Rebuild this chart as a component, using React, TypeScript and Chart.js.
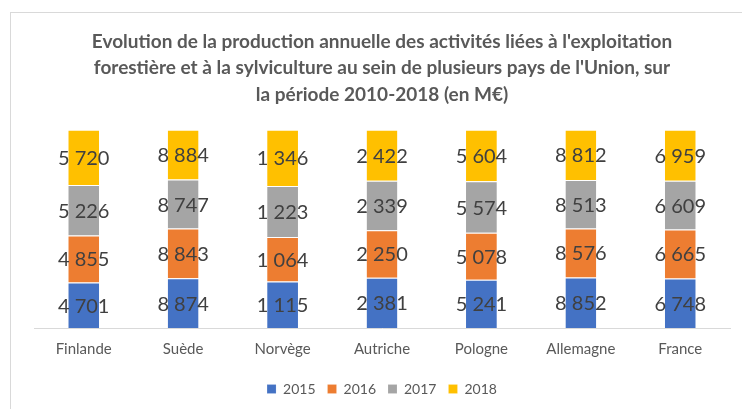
import React, { useEffect, useRef } from "react";
import { Chart, registerables } from "chart.js";

Chart.register(...registerables);

const countries = ["Finlande", "Suède", "Norvège", "Autriche", "Pologne", "Allemagne", "France"];
const years = ["2015", "2016", "2017", "2018"];
const values2015 = [4701, 8874, 1115, 2381, 5241, 8852, 6748];
const values2016 = [4855, 8843, 1064, 2250, 5078, 8576, 6665];
const values2017 = [5226, 8747, 1223, 2339, 5574, 8513, 6609];
const values2018 = [5720, 8884, 1346, 2422, 5604, 8812, 6959];
const seriesColors = ["#4472C4", "#ED7D31", "#A5A5A5", "#FFC000"];
const titleLines = [
  "Evolution de la production annuelle des activités liées à l'exploitation",
  "forestière et à la sylviculture au sein de plusieurs pays de l'Union, sur",
  "la période 2010-2018 (en M€)",
];

const FONT = "Lato, 'Open Sans', sans-serif";

const fmt = (v: number) => {
  const s = String(Math.round(v));
  return s.replace(/\B(?=(\d{3})+(?!\d))/g, " ");
};

// Segment labels: the raw value, centred inside each stacked piece
const segmentLabels = {
  id: "segmentLabels",
  afterDatasetsDraw(chart: any) {
    const ctx = chart.ctx;
    ctx.save();
    ctx.font = `20px ${FONT}`;
    ctx.fillStyle = "#404040";
    ctx.textAlign = "center";
    ctx.textBaseline = "middle";
    chart.data.datasets.forEach((ds: any, di: number) => {
      const meta = chart.getDatasetMeta(di);
      meta.data.forEach((bar: any, i: number) => {
        const { x, y, base } = bar.getProps(["x", "y", "base"], true);
        ctx.fillText(fmt(ds.raw[i]), x, (y + base) / 2 + 1);
      });
    });
    ctx.restore();
  },
};

export default function App() {
  const ref = useRef<HTMLCanvasElement | null>(null);

  useEffect(() => {
    document.body.style.overflow = "hidden";
    const raws = [values2015, values2016, values2017, values2018];
    const totals = countries.map((_, i) => raws.reduce((s, r) => s + r[i], 0));
    const chart = new Chart(ref.current as HTMLCanvasElement, {
      type: "bar",
      data: {
        labels: countries,
        datasets: years.map((yr, k) => ({
          label: yr,
          raw: raws[k],
          data: raws[k].map((v, i) => (v / totals[i]) * 100),
          backgroundColor: seriesColors[k],
          borderColor: "rgba(255,255,255,0.55)",
          borderWidth: { top: 1, bottom: 0, left: 0, right: 0 },
          borderSkipped: false,
          barPercentage: 0.31,
          categoryPercentage: 1,
        })) as any,
      },
      options: {
        animation: false,
        responsive: false,
        maintainAspectRatio: false,
        layout: { padding: { left: 23, right: 23, top: 6, bottom: 3 } },
        scales: {
          x: {
            stacked: true,
            grid: { display: false, drawTicks: false },
            border: { display: true, color: "#D9D9D9", width: 1 },
            ticks: { color: "#595959", font: { family: FONT, size: 15 }, padding: 12 },
          },
          y: { stacked: true, display: false, min: 0, max: 100 },
        },
        plugins: {
          tooltip: { enabled: false },
          title: {
            display: true,
            text: titleLines,
            color: "#595959",
            font: { family: FONT, size: 19, weight: "bold", lineHeight: 1.38 },
            padding: { top: 10, bottom: 22 },
          },
          legend: {
            position: "bottom",
            labels: {
              color: "#595959",
              font: { family: FONT, size: 14 },
              boxWidth: 9,
              boxHeight: 9,
              padding: 12,
            },
          },
        },
      },
      plugins: [segmentLabels],
    });
    return () => chart.destroy();
  }, []);

  return (
    <div
      style={{
        position: "fixed",
        left: 10,
        top: 12,
        width: 760,
        height: 420,
        borderLeft: "1px solid #D9D9D9",
        borderTop: "1px solid #D9D9D9",
        background: "#fff",
        overflow: "hidden",
      }}
    >
      <canvas ref={ref} width={742} height={396} style={{ display: "block" }} />
    </div>
  );
}
